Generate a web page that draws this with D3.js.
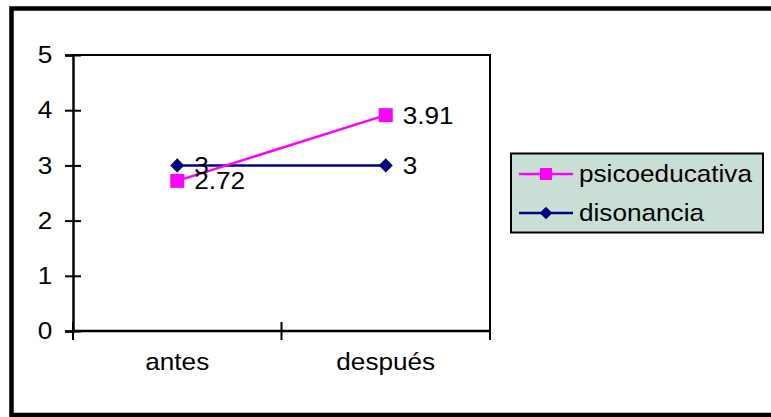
<!DOCTYPE html>
<html>
<head>
<meta charset="utf-8">
<script src="https://cdn.jsdelivr.net/npm/d3@7/dist/d3.min.js"></script>
<style>
  html, body { margin: 0; padding: 0; background: #ffffff; }
  svg { display: block; }
  text { font-family: "Liberation Sans", Arial, sans-serif; fill: #000; }
</style>
</head>
<body>
<svg id="chart" width="771" height="417"></svg>
<script>
// Data
const categories = ["antes", "después"];
const psicoeducativa = [2.72, 3.91];
const disonancia = [3, 3];
const yTicks = [0, 1, 2, 3, 4, 5];
const seriesNames = ["psicoeducativa", "disonancia"];

const svg = d3.select("#chart");
const fontSize = 24;
const stretch = 1.09; // slightly wide lettering

// Outer frame
svg.append("rect")
  .attr("x", 11.5).attr("y", 8.5)
  .attr("width", 800).attr("height", 406.5)
  .attr("fill", "#fff").attr("stroke", "#000").attr("stroke-width", 4.5);

const plot = { left: 73, right: 490, top: 55, bottom: 331 };

const x = d3.scaleBand().domain(categories).range([plot.left, plot.right]);
const y = d3.scaleLinear().domain([0, 5]).range([plot.bottom, plot.top]);

// Plot area border (top and right)
svg.append("path")
  .attr("d", `M${plot.left},${plot.top}H${plot.right}V${plot.bottom}`)
  .attr("fill", "none").attr("stroke", "#000").attr("stroke-width", 2);

// Y axis
const yAxis = svg.append("g")
  .attr("transform", `translate(${plot.left},0)`)
  .call(d3.axisLeft(y).tickValues(yTicks).tickSize(8).tickPadding(11).tickFormat(d3.format("d")));
yAxis.select(".domain").attr("stroke", "#000").attr("stroke-width", 2.5);
yAxis.selectAll(".tick line").attr("x1", 8).attr("stroke", "#000").attr("stroke-width", 2);
yAxis.selectAll(".tick text")
  .attr("font-size", fontSize).attr("font-family", "Liberation Sans, Arial, sans-serif")
  .attr("transform", `scale(${stretch},1)`);

// X axis: labels at band centers, ticks at band boundaries
const xAxis = svg.append("g")
  .attr("transform", `translate(0,${plot.bottom})`)
  .call(d3.axisBottom(x).tickSize(0).tickPadding(22));
xAxis.select(".domain").remove();
xAxis.selectAll(".tick text")
  .attr("font-size", fontSize).attr("font-family", "Liberation Sans, Arial, sans-serif")
  .attr("transform", `scale(${stretch},1)`);
xAxis.append("line")
  .attr("x1", plot.left).attr("x2", plot.right)
  .attr("stroke", "#000").attr("stroke-width", 2.5);
const boundaries = categories.map(c => x(c)).concat([x(categories[categories.length - 1]) + x.bandwidth()]);
xAxis.selectAll(".bound").data(boundaries).join("line")
  .attr("class", "bound")
  .attr("x1", d => d).attr("x2", d => d)
  .attr("y1", -9).attr("y2", 9)
  .attr("stroke", "#000").attr("stroke-width", 2);

const cx = c => x(c) + x.bandwidth() / 2;

const series = [
  { name: seriesNames[0], values: psicoeducativa, color: "#ff00ff", symbol: d3.symbolSquare, size: 196, rotate: 0 },
  { name: seriesNames[1], values: disonancia, color: "#000080", symbol: d3.symbolSquare, size: 100, rotate: 45 }
];

const line = d3.line().x((d, i) => cx(categories[i])).y(d => y(d));

// Draw disonancia first so psicoeducativa sits over it
[series[1], series[0]].forEach(s => {
  svg.append("path").datum(s.values)
    .attr("d", line)
    .attr("fill", "none").attr("stroke", s.color).attr("stroke-width", 2.5);
  svg.selectAll(null).data(s.values).join("path")
    .attr("d", d3.symbol().type(s.symbol).size(s.size))
    .attr("transform", (d, i) => `translate(${cx(categories[i])},${y(d)}) rotate(${s.rotate})`)
    .attr("fill", s.color);
});

// Value labels
series.forEach(s => {
  svg.selectAll(null).data(s.values).join("text")
    .attr("transform", (d, i) => `translate(${cx(categories[i]) + 17},${y(d)}) scale(${stretch},1)`)
    .attr("dy", "0.35em")
    .attr("font-size", fontSize)
    .text(d => d);
});

// Legend
const legend = svg.append("g");
legend.append("rect")
  .attr("x", 511).attr("y", 153.5).attr("width", 252).attr("height", 79)
  .attr("fill", "#c9dfd6").attr("stroke", "#000").attr("stroke-width", 2);
const rowY = [174, 213];
series.forEach((s, i) => {
  const g = legend.append("g").attr("transform", `translate(0,${rowY[i]})`);
  g.append("line").attr("x1", 519).attr("x2", 573)
    .attr("stroke", s.color).attr("stroke-width", 2.5);
  g.append("path")
    .attr("d", d3.symbol().type(s.symbol).size(i === 0 ? 144 : 81))
    .attr("transform", `translate(546,0) rotate(${s.rotate})`)
    .attr("fill", s.color);
  g.append("text")
    .attr("transform", `translate(579,0) scale(${stretch},1)`)
    .attr("dy", "0.35em")
    .attr("font-size", fontSize).text(s.name);
});
</script>
</body>
</html>
